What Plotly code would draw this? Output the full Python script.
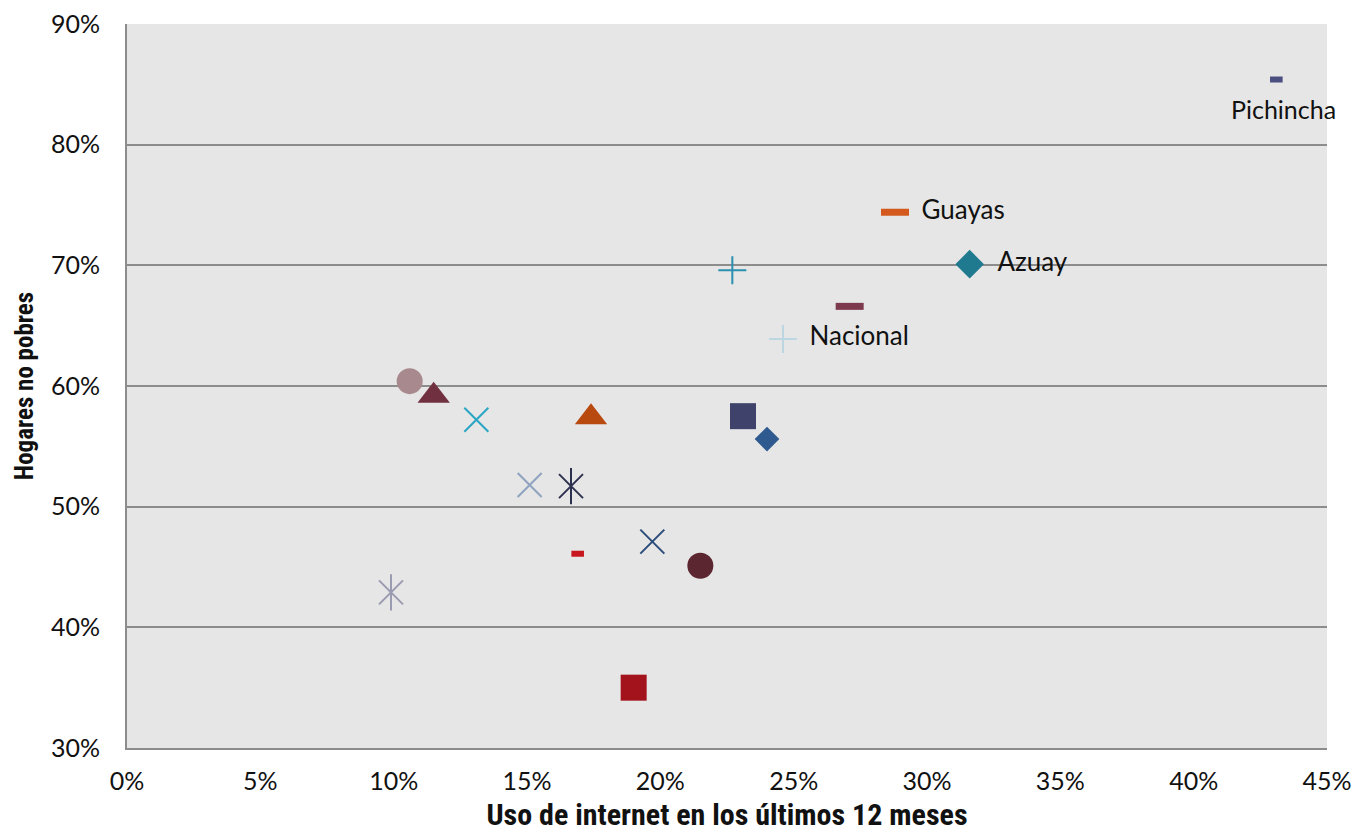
import plotly.graph_objects as go

# Data (percent)
internet = [43.1, 28.8, 31.6, 24.6, 22.7, 27.1, 10.6, 11.5, 13.1, 17.4, 23.1, 24.0, 15.1, 16.65, 16.9, 19.7, 21.5, 9.9, 19.0]
no_pobres = [85.4, 74.4, 70.1, 63.9, 69.6, 66.6, 60.4, 59.2, 57.2, 57.4, 57.5, 55.6, 51.8, 51.7, 46.1, 47.1, 45.1, 42.9, 35.0]
labels = ["Pichincha", "Guayas", "Azuay", "Nacional", "", "", "", "", "", "", "", "", "", "", "", "", "", "", ""]
symbols = ["line-ew-open", "line-ew-open", "diamond", "cross-thin-open", "cross-thin-open", "line-ew-open",
           "circle", "triangle-up", "x-thin-open", "triangle-up", "square", "diamond", "x-thin-open",
           "asterisk6", "line-ew-open", "x-thin-open", "circle", "asterisk6", "square"]
colors = ["#4a4f80", "#d35a1c", "#1f7a8f", "#bcd6e2", "#2a8fb0", "#7d3a4c", "#a88a8e", "#71303f", "#2aa6c4",
          "#b84a10", "#3f426b", "#2f5a8f", "#8fa3c0", "#2e3050", "#c8161e", "#2b4d7a", "#5c2631", "#9a9ab0", "#a3131c"]
sizes = [9, 20, 22, 20, 20, 20, 26, 28, 24, 28, 26, 19, 24, 24, 9, 24, 26, 24, 26]
label_below = [True, False, False, False] + [False] * 15
text_sizes = [25, 26, 26, 26] + [26] * 15

fig = go.Figure()
for i in range(len(internet)):
    sym = symbols[i]
    if sym == "asterisk6":
        for s in ["x-thin-open", "line-ns-open"]:
            fig.add_trace(go.Scatter(
                x=[internet[i]], y=[no_pobres[i]], mode="markers",
                marker=dict(symbol=s, size=sizes[i] if s.startswith("x") else sizes[i] + 2,
                            color=colors[i], line=dict(color=colors[i], width=2)),
                showlegend=False, cliponaxis=False))
        continue
    open_sym = sym.endswith("open")
    lw = 2
    if sym.startswith("line-ew"):
        lw = 7 if sizes[i] > 12 else 6
    side_label = labels[i] and not label_below[i]
    fig.add_trace(go.Scatter(
        x=[internet[i]], y=[no_pobres[i]],
        mode="markers+text" if side_label else "markers",
        text=["\u2002" + labels[i]] if side_label else None,
        textposition="middle right",
        textfont=dict(family="Lato, sans-serif", size=text_sizes[i], color="#111111"),
        marker=dict(symbol=sym, size=sizes[i], color=colors[i],
                    line=dict(color=colors[i], width=lw if open_sym else 0)),
        showlegend=False, cliponaxis=False))
    if labels[i] and label_below[i]:
        fig.add_annotation(x=internet[i], y=no_pobres[i], text=labels[i], showarrow=False,
                           xanchor="center", yanchor="top", xshift=7, yshift=-12,
                           font=dict(family="Lato, sans-serif", size=text_sizes[i], color="#111111"))

narrow = "Liberation Sans Narrow, Roboto Condensed, DejaVu Sans Condensed, sans-serif"
fig.update_layout(
    width=1353, height=827,
    margin=dict(l=119, r=34, t=16, b=87),
    paper_bgcolor="white", plot_bgcolor="#e6e6e6",
    font=dict(family="Lato, sans-serif", size=25, color="#111111"),
    xaxis=dict(range=[0, 45], dtick=5, ticksuffix="%", showgrid=False, zeroline=False, automargin=False,
               showline=True, linecolor="#8c8c8c", linewidth=2, ticks="outside", ticklen=10,
               tickcolor="rgba(0,0,0,0)", ticklabeloverflow="allow",
               title=dict(text="<b>Uso de internet en los últimos 12 meses</b>",
                          font=dict(family=narrow, size=30), standoff=10)),
    yaxis=dict(range=[30, 90], dtick=10, ticksuffix="%", showgrid=True, gridcolor="#8c8c8c", gridwidth=2,
               zeroline=False, showline=True, linecolor="#8c8c8c", linewidth=2, automargin=False,
               ticks="outside", ticklen=20, tickcolor="rgba(0,0,0,0)", ticklabeloverflow="allow",
               title=dict(text="<b>Hogares no pobres</b>", font=dict(family=narrow, size=25), standoff=10)),
)

fig.write_html("out.html")
